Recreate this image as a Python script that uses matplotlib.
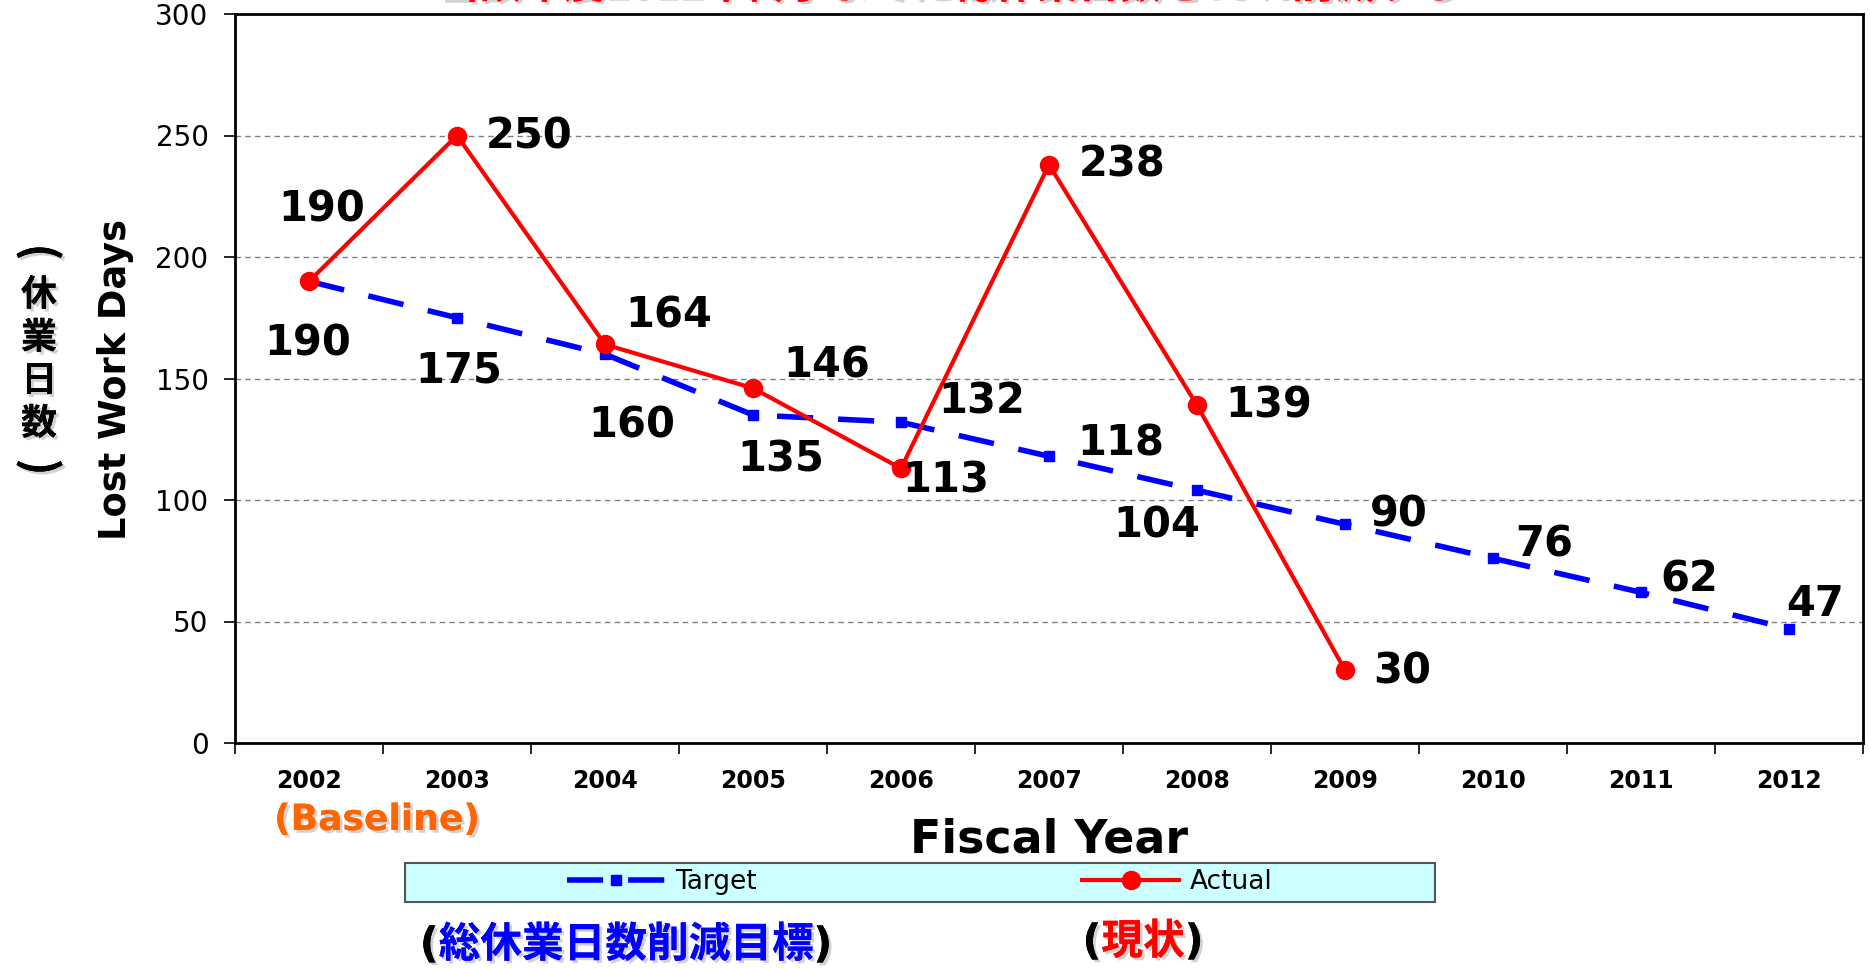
import matplotlib
matplotlib.use("Agg")
import matplotlib.pyplot as plt
import matplotlib.patheffects as pe
from matplotlib.patches import Rectangle

# ----------------------------
# Data
# ----------------------------
YEARS = ["2002", "2003", "2004", "2005", "2006", "2007",
         "2008", "2009", "2010", "2011", "2012"]
TARGET = [190, 175, 160, 135, 132, 118, 104, 90, 76, 62, 47]
ACTUAL = [190, 250, 164, 146, 113, 238, 139, 30]

# label offsets (points) from each marker
TARGET_OFFSETS = [(-1, -45), (1, -38), (19, -51), (20, -32), (58, 15), (52, 9),
                  (-29, -25), (39, 7), (37, 10), (35, 9), (19, 18)]
ACTUAL_OFFSETS = [(9, 52), (52, -1), (46, 21), (53, 16), (32, -9), (53, 0),
                  (52, 0), (41, -1)]

plt.rcParams["font.family"] = ["DejaVu Sans", "Noto Sans CJK JP"]
JP = ["Noto Sans CJK JP", "DejaVu Sans"]
shadow = [pe.withSimplePatchShadow(offset=(2, -2), shadow_rgbFace="gray", alpha=0.35), pe.Normal()]

W, H = 1870, 969
fig = plt.figure(figsize=(W / 100, H / 100), dpi=100)
ax = fig.add_axes([235 / W, 1 - 743 / H, (1863 - 235) / W, (743 - 14) / H])

x_t = list(range(len(TARGET)))
x_a = list(range(len(ACTUAL)))

ax.plot(x_t, TARGET, color="#0000FF", lw=4, linestyle=(0, (6.5, 4.5)),
        marker="s", markersize=6.5, label="Target", zorder=3)
ax.plot(x_a, ACTUAL, color="#FF0000", lw=3, marker="o", markersize=13,
        label="Actual", zorder=4)

for x, v, off in zip(x_t, TARGET, TARGET_OFFSETS):
    ax.annotate(str(v), (x, v), xytext=off, textcoords="offset points",
                ha="center", va="center", fontsize=30, fontweight="bold", zorder=5)
for x, v, off in zip(x_a, ACTUAL, ACTUAL_OFFSETS):
    ax.annotate(str(v), (x, v), xytext=off, textcoords="offset points",
                ha="center", va="center", fontsize=30, fontweight="bold", zorder=5)

# axes styling
ax.set_xlim(-0.5, len(YEARS) - 0.5)
ax.set_ylim(0, 300)
ax.set_yticks(range(0, 301, 50))
ax.tick_params(axis="y", direction="out", length=8, width=1.2, labelsize=20, pad=11)
ax.set_xticks([i - 0.5 for i in range(len(YEARS) + 1)])
ax.set_xticklabels([])
ax.set_xticks(range(len(YEARS)), minor=True)
ax.set_xticklabels(YEARS, minor=True, fontsize=17, fontweight="bold")
ax.tick_params(axis="x", which="major", direction="out", length=8, width=1.2)
ax.tick_params(axis="x", which="minor", length=0, pad=19)
ax.grid(axis="y", color="#808080", linestyle=(0, (4, 3)), lw=1)
ax.set_axisbelow(True)
for s in ax.spines.values():
    s.set_linewidth(2)
    s.set_color("black")

# axis titles
fig.text(116 / W, 1 - 379 / H, "Lost Work Days", rotation=90, ha="center", va="center",
         fontsize=26.5, fontweight="bold")

# vertical Japanese label: (休業日数) stacked, parentheses turned
jp_chars = ["(", "休", "業", "日", "数", ")"]
for i, ch in enumerate(jp_chars):
    yc = 252 + i * 43
    is_paren = ch in "()"
    fig.text(39 / W, 1 - yc / H, ch, ha="center", va="center",
             rotation=-90 if is_paren else 0, rotation_mode="anchor",
             fontsize=32 if is_paren else 26, fontweight="bold", family=JP,
             path_effects=shadow)

fig.text(1049 / W, 1 - 840 / H, "Fiscal Year", ha="center", va="center",
         fontsize=33, fontweight="bold")
fig.text(377 / W, 1 - 820 / H, "(Baseline)", ha="center", va="center",
         fontsize=26, fontweight="bold", color="#FF6600", path_effects=shadow)

# clipped title at the very top
fig.text(948 / W, 1 - 7 / H, "当該年度2012年終了までに総休業日数を75%削減する", ha="center",
         va="bottom", fontsize=30, fontweight="bold", color="#FF0000", family=JP,
         path_effects=shadow)

# legend box
fig.patches.append(Rectangle((405 / W, 1 - 902 / H), (1435 - 405) / W, 39 / H,
                             transform=fig.transFigure, facecolor="#CCFFFF",
                             edgecolor="#555555", lw=1.5, zorder=0))
fig.legend(loc="center", bbox_to_anchor=(920 / W, 1 - 882 / H), ncol=2, frameon=False,
           fontsize=19, handlelength=3.7, handletextpad=0.4, columnspacing=12.3)

# bottom Japanese captions
def caption(xc, yc, inner, color):
    t = fig.text(xc, yc, inner, ha="center", va="center", fontsize=30, fontweight="bold",
                 color=color, family=JP, path_effects=shadow)
    for xy, ha, s in [((0, 0.5), "right", "("), ((1, 0.5), "left", ")")]:
        ax.annotate(s, xy=xy, xycoords=t, ha=ha, va="center", fontsize=30,
                    fontweight="bold", annotation_clip=False, path_effects=shadow)

caption(626 / W, 1 - 945 / H, "総休業日数削減目標", "#0000FF")
caption(1143 / W, 1 - 942 / H, "現状", "#FF0000")

fig.savefig("out.png", dpi=100, facecolor="white")
